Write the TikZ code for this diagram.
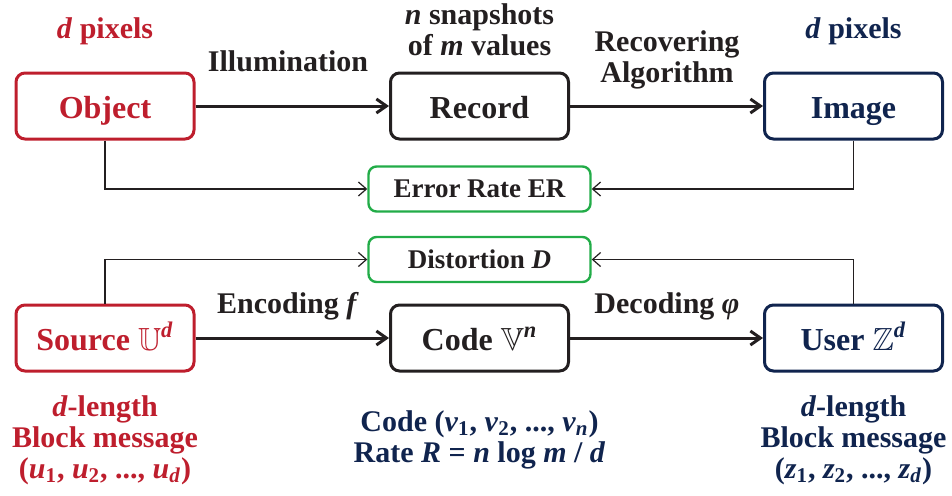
\documentclass[tikz,border=0pt]{standalone}
\usepackage{fontspec}
\usepackage{amssymb}
\setmainfont{Liberation Serif}
\usetikzlibrary{arrows.meta,shadows}

\definecolor{objred}{RGB}{190,30,45}
\definecolor{usernavy}{RGB}{16,36,78}
\definecolor{errgreen}{RGB}{34,172,72}
\definecolor{inkblack}{RGB}{35,31,32}

\begin{document}
\begin{tikzpicture}[x=0.5pt, y=-0.5pt, font=\bfseries,
	bigbox/.style={draw, line width=1.5pt, rounded corners=4.5pt, minimum width=89pt, minimum height=33pt, text height=13pt, text depth=1pt, font=\fontsize{16}{19}\selectfont\bfseries},
	errbox/.style={draw=errgreen, line width=1.2pt, rounded corners=4pt, minimum width=111pt, minimum height=22.5pt, text=inkblack, font=\fontsize{13.5}{16}\selectfont\bfseries},
	lbl/.style={align=center, font=\fontsize{15}{15.5}\selectfont\bfseries},
	mainarrow/.style={-{Straight Barb[length=5pt, width=7pt]}, line width=1.5pt, inkblack, drop shadow={opacity=0.25, shadow xshift=0.8pt, shadow yshift=-0.8pt}},
	thinarrow/.style={-{Straight Barb[length=4pt, width=7pt]}, line width=0.6pt, inkblack}]

	\useasboundingbox (0,0) rectangle (952,495);

	% imaging chain
	\node[bigbox, draw=objred, text=objred] (object) at (105,106) {Object};
	\node[bigbox, draw=inkblack, text=inkblack] (record) at (479.5,106) {Record};
	\node[bigbox, draw=usernavy, text=usernavy] (image) at (853.5,106) {Image};
	\node[errbox] (err) at (479.5,189) {Error Rate ER};

	\node[lbl, text=objred] (objpix) at (105,31) {\textit{d} pixels};
	\node[lbl, text=usernavy] (imgpix) at (853.5,31) {\textit{d} pixels};
	\node[lbl, text=inkblack] (illum) at (288,61) {Illumination};
	\node[lbl, text=inkblack] (snap) at (479.5,30) {\textit{n} snapshots\\of \textit{m} values};
	\node[lbl, text=inkblack] (recov) at (667,60) {Recovering\\Algorithm};

	\draw[mainarrow] (object) -- (record);
	\draw[mainarrow] (record) -- (image);
	\draw[thinarrow] (object.south) |- (err.west);
	\draw[thinarrow] (image.south) |- (err.east);

	% coding chain
	\node[bigbox, draw=objred, text=objred] (source) at (105,338) {Source $\mathbb{U}$\textsuperscript{\textit{d}}};
	\node[bigbox, draw=inkblack, text=inkblack] (code) at (479.5,338) {Code $\mathbb{V}$\textsuperscript{\textit{n}}};
	\node[bigbox, draw=usernavy, text=usernavy] (user) at (853.5,338) {User $\mathbb{Z}$\textsuperscript{\textit{d}}};
	\node[errbox] (dist) at (479.5,259.5) {Distortion \textit{D}};

	\node[lbl, text=inkblack] (enc) at (288,306) {Encoding \textit{f}};
	\node[lbl, text=inkblack] (dec) at (667,306) {Decoding \textit{φ}};

	\draw[mainarrow] (source) -- (code);
	\draw[mainarrow] (code) -- (user);
	\draw[thinarrow] (source.north) |- (dist.west);
	\draw[thinarrow] (user.north) |- (dist.east);

	\node[lbl, text=objred] (srcmsg) at (105,440) {\textit{d}-length\\Block message\\(\textit{u}\textsubscript{1}, \textit{u}\textsubscript{2}, ..., \textit{u}\textsubscript{\textit{d}})};
	\node[lbl, text=usernavy] (coderate) at (479.5,440) {Code (\textit{v}\textsubscript{1}, \textit{v}\textsubscript{2}, ..., \textit{v}\textsubscript{\textit{n}})\\Rate \textit{R} = \textit{n} log \textit{m} / \textit{d}};
	\node[lbl, text=usernavy] (usrmsg) at (853.5,440) {\textit{d}-length\\Block message\\(\textit{z}\textsubscript{1}, \textit{z}\textsubscript{2}, ..., \textit{z}\textsubscript{\textit{d}})};

\end{tikzpicture}
\end{document}
